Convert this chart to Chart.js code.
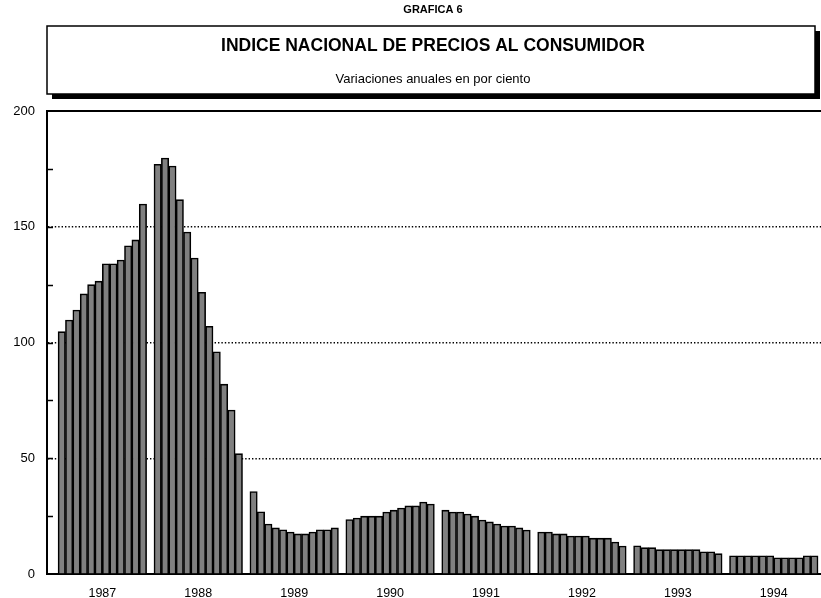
<!DOCTYPE html>
<html>
<head>
<meta charset="utf-8">
<script src="https://cdn.jsdelivr.net/npm/chart.js@4"></script>
<style>
  body { margin: 0; background: #fff; }
  canvas { display: block; }
</style>
</head>
<body>
<canvas id="inpcChart" width="821" height="598"></canvas>
<script>
"use strict";
// INPC, variaciones anuales en por ciento (mensual)
var years = ["1987", "1988", "1989", "1990", "1991", "1992", "1993", "1994"];
var v1987 = [104.7, 109.7, 114, 121, 125, 126.5, 134, 134, 135.6, 141.8, 144.3, 159.8];
var v1988 = [177, 179.7, 176.2, 161.7, 147.7, 136.5, 121.7, 107, 96, 82, 70.8, 52];
var v1989 = [35.6, 26.9, 21.6, 19.9, 19.1, 18.1, 17.3, 17.3, 18.1, 19.1, 19.1, 19.9];
var v1990 = [23.5, 24.2, 25, 25, 25, 26.8, 27.6, 28.5, 29.4, 29.4, 31.1, 30.2];
var v1991 = [27.6, 26.8, 26.8, 25.9, 25, 23.3, 22.5, 21.6, 20.7, 20.7, 19.9, 19];
var v1992 = [18.1, 18.1, 17.3, 17.3, 16.4, 16.4, 16.4, 15.5, 15.5, 15.5, 13.8, 12.1];
var v1993 = [12.2, 11.4, 11.4, 10.5, 10.5, 10.5, 10.5, 10.5, 10.5, 9.6, 9.6, 8.8];
var v1994 = [7.9, 7.9, 7.9, 7.9, 7.9, 7.9, 7.0, 7.0, 7.0, 7.0, 7.9, 7.9];
var yTicks = [0, 50, 100, 150, 200];

var series = [v1987, v1988, v1989, v1990, v1991, v1992, v1993, v1994];
var slots = 13; // 12 meses + hueco entre años
var points = [];
series.forEach(function (vals, yi) {
    vals.forEach(function (v, m) {
        points.push({x: yi * slots + m, y: v});
    });
});

var frame = {
    id: 'frame',
    beforeDraw: function (chart) {
        var ctx = chart.ctx;
        ctx.save();
        // caja del titulo con sombra
        ctx.fillStyle = '#000';
        ctx.fillRect(52, 31, 768, 68);
        ctx.fillStyle = '#fff';
        ctx.fillRect(47, 26, 768, 68);
        ctx.strokeStyle = '#000';
        ctx.lineWidth = 1.5;
        ctx.strokeRect(47, 26, 768, 68);
        ctx.fillStyle = '#000';
        ctx.textAlign = 'center';
        ctx.textBaseline = 'middle';
        ctx.font = 'bold 11px "Liberation Sans", Arial';
        ctx.fillText('GRAFICA 6', 433, 10);
        ctx.font = 'bold 17.5px "Liberation Sans", Arial';
        ctx.fillText('INDICE NACIONAL DE PRECIOS AL CONSUMIDOR', 433, 46);
        ctx.font = '13px "Liberation Sans", Arial';
        ctx.fillText('Variaciones anuales en por ciento', 433, 79);
        ctx.restore();
    },
    afterDraw: function (chart) {
        var ctx = chart.ctx;
        var a = chart.chartArea;
        var ys = chart.scales.y;
        ctx.save();
        ctx.strokeStyle = '#000';
        ctx.lineWidth = 2;
        ctx.beginPath();
        ctx.moveTo(a.left - 1, a.top);
        ctx.lineTo(a.right, a.top);
        ctx.stroke();
        // marcas interiores cada 25
        ctx.lineWidth = 1.5;
        for (var v = 25; v < 200; v += 25) {
            var py = Math.round(ys.getPixelForValue(v)) + 0.5;
            ctx.beginPath();
            ctx.moveTo(a.left, py);
            ctx.lineTo(a.left + 6, py);
            ctx.stroke();
        }
        ctx.restore();
    }
};

var ctx = document.getElementById("inpcChart");
var inpcChart = new Chart(ctx, {
    type: 'bar',
    data: {
        datasets: [{
            data: points,
            backgroundColor: '#808080',
            borderColor: '#000',
            borderWidth: 1.6,
            barPercentage: 1,
            categoryPercentage: 1
        }]
    },
    options: {
        responsive: false,
        animation: false,
        layout: {padding: {top: 111, right: 0, left: 0, bottom: 0}},
        plugins: {legend: {display: false}, tooltip: {enabled: false}},
        scales: {
            x: {
                type: 'linear',
                min: -2,
                max: 102.9,
                offset: false,
                afterFit: function (s) { s.height = 24; },
                afterBuildTicks: function (s) {
                    s.ticks = years.map(function (y, i) { return {value: i * slots + 5.5}; });
                },
                ticks: {
                    autoSkip: false,
                    maxRotation: 0,
                    color: '#000',
                    padding: 4,
                    font: {family: '"Liberation Sans", Arial', size: 12.5},
                    callback: function (val, i) { return years[i]; }
                },
                grid: {display: false},
                border: {color: '#000', width: 2}
            },
            y: {
                min: 0,
                max: 200,
                afterFit: function (s) { s.width = 47; },
                afterBuildTicks: function (s) {
                    s.ticks = yTicks.map(function (v) { return {value: v}; });
                },
                ticks: {
                    color: '#000',
                    padding: 12,
                    font: {family: '"Liberation Sans", Arial', size: 13}
                },
                grid: {
                    drawTicks: false,
                    color: function (c) {
                        var v = c.tick && c.tick.value;
                        return (v === 50 || v === 100 || v === 150) ? '#000' : 'rgba(0,0,0,0)';
                    },
                    lineWidth: 1.4
                },
                border: {color: '#000', width: 2, dash: [1.4, 2]}
            }
        }
    },
    plugins: [frame]
});
</script>
</body>
</html>
